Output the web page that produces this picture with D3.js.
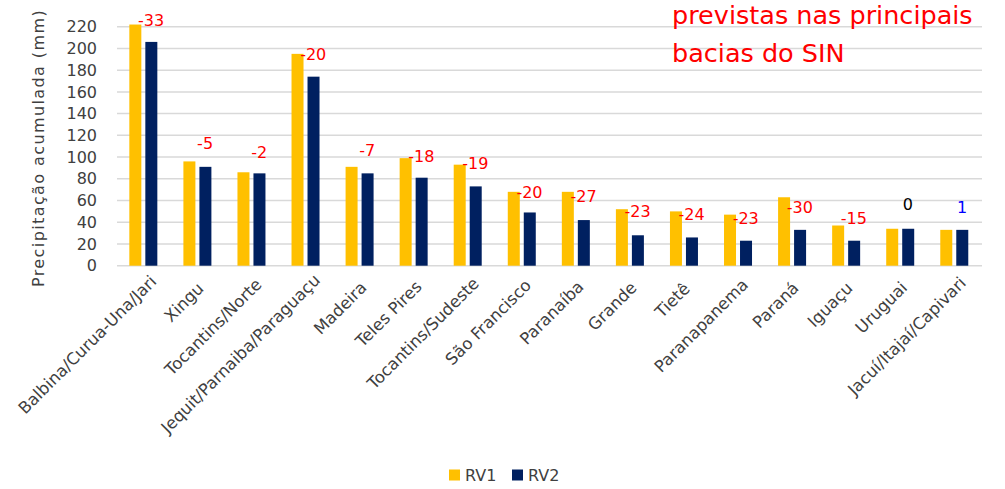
<!DOCTYPE html>
<html><head><meta charset="utf-8">
<script src="https://cdn.jsdelivr.net/npm/d3@7"></script>
<style>html,body{margin:0;padding:0;background:#fff;overflow:hidden}</style>
</head><body><svg id="c" width="1005" height="489"></svg>
<script>
const categories = ["Balbina/Curua-Una/Jari","Xingu","Tocantins/Norte","Jequit/Parnaiba/Paraguaçu","Madeira","Teles Pires","Tocantins/Sudeste","São Francisco","Paranaíba","Grande","Tietê","Paranapanema","Paraná","Iguaçu","Uruguai","Jacuí/Itajaí/Capivari"];
const rv1 = [222,96,86,195,91,99,93,68,68,52,50,47,63,37,34,33];
const rv2 = [206,91,85,174,85,81,73,49,42,28,26,23,33,23,34,33];
const diffLabels = [-33,-5,-2,-20,-7,-18,-19,-20,-27,-23,-24,-23,-30,-15,0,1];
const labelAt = [226,113,104,195,106,101,94,68,64,50,47,44,54,44,57,54];
const yTicks = [0,20,40,60,80,100,120,140,160,180,200,220];
const seriesNames = ["RV1","RV2"];
const titleLines = ["previstas nas principais","bacias do SIN"];

const FONT = "'DejaVu Sans', sans-serif";
const svg = d3.select("#c");
const colors = {RV1:"#FFC000", RV2:"#002060"};
const mLeft = 117, mRight = 982, mTop = 26.7, mBottom = 265.7;

const x = d3.scaleBand().domain(categories).range([mLeft, mRight]).paddingInner(0).paddingOuter(0);
const y = d3.scaleLinear().domain([0,220]).range([mBottom, mTop]);
const xs = d3.scaleBand().domain(seriesNames).range([0, 28]).paddingInner(0.25).paddingOuter(0);

// gridlines
svg.append("g").selectAll("line").data(yTicks).join("line")
  .attr("x1", mLeft).attr("x2", mRight)
  .attr("y1", d => y(d)).attr("y2", d => y(d))
  .attr("stroke", "#D9D9D9").attr("stroke-width", 1.5);

// y axis labels
const yAxis = d3.axisLeft(y).tickValues(yTicks).tickSize(0).tickPadding(0);
const ga = svg.append("g").attr("transform", `translate(97,0)`).call(yAxis);
ga.select(".domain").remove();
ga.selectAll("text").attr("font-family", FONT).attr("font-size", 16).attr("fill", "#404040");

// y title
svg.append("text").attr("transform", `translate(44,148) rotate(-90)`)
  .attr("text-anchor","middle").attr("font-family", FONT).attr("font-size", 16)
  .attr("letter-spacing", 1.4).attr("fill","#404040")
  .text("Precipitação acumulada  (mm)");

// bars
const data = categories.map((c,i) => ({c, RV1: rv1[i], RV2: rv2[i]}));
const groups = svg.append("g").selectAll("g").data(data).join("g")
  .attr("transform", d => `translate(${x(d.c) + x.bandwidth()/2 - 14.7},0)`);
groups.selectAll("rect").data(d => seriesNames.map(k => ({k, v: d[k]}))).join("rect")
  .attr("x", d => xs(d.k)).attr("width", xs.bandwidth())
  .attr("y", d => y(d.v)).attr("height", d => y(0) - y(d.v))
  .attr("fill", d => colors[d.k]);

// difference labels
svg.append("g").selectAll("text").data(categories).join("text")
  .attr("x", d => x(d) + x.bandwidth()/2 + 7)
  .attr("y", (d,i) => y(labelAt[i]))
  .attr("dy", "0.36em")
  .attr("text-anchor","middle").attr("font-family", FONT).attr("font-size", 16)
  .attr("fill", (d,i) => diffLabels[i] < 0 ? "#FF0000" : (diffLabels[i] > 0 ? "#0000FF" : "#000000"))
  .text((d,i) => diffLabels[i]);

// x labels
const xl = svg.append("g").selectAll("text").data(categories).join("text")
  .attr("transform", d => `translate(${x(d) + x.bandwidth()/2 - 4},${mBottom + 18}) rotate(-45)`)
  .attr("text-anchor","end").attr("dy","0.7em")
  .attr("font-family", FONT).attr("font-size", 16.5).attr("fill","#404040")
  .text(d => d);
xl.attr("x", function(){ return 0.07 * this.getComputedTextLength(); });

// title text
svg.append("g").selectAll("text").data(titleLines).join("text")
  .attr("x", 672).attr("y", (d,i) => 23.5 + i*38.5)
  .attr("font-family", FONT).attr("font-size", 25.5).attr("fill","#FF0000")
  .text(d => d);

// legend
const lg = svg.append("g");
const legX = [449, 512];
seriesNames.forEach((s,i) => {
  lg.append("rect").attr("x", legX[i]).attr("y", 469.5).attr("width", 11).attr("height", 11).attr("fill", colors[s]);
  lg.append("text").attr("x", legX[i] + 16).attr("y", 481).attr("font-family", FONT).attr("font-size", 16)
    .attr("fill","#404040").text(s);
});
</script></body></html>
